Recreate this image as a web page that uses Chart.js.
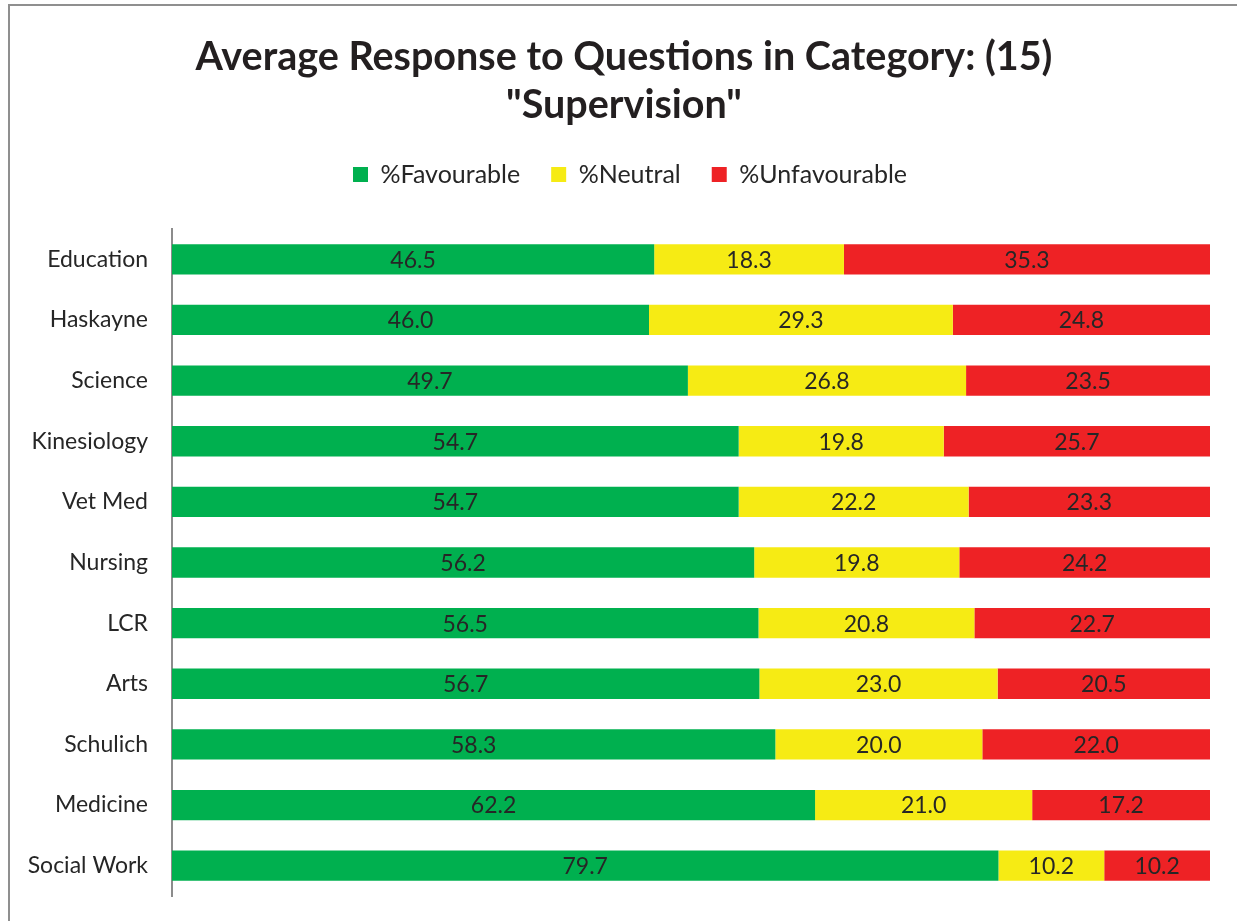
<!DOCTYPE html>
<html>
<head>
<meta charset="utf-8">
<script src="https://cdn.jsdelivr.net/npm/chart.js@4"></script>
<style>
  body { margin: 0; background: #fff; }
  .frame { position: absolute; left: 8px; top: 4px; width: 1240px; height: 930px; border: 2px solid #8f8f8f; }
  .wrap { position: absolute; left: 0; top: 0; width: 1237px; height: 921px; }
</style>
</head>
<body>
<div class="frame"></div>
<div class="wrap"><canvas id="chart" width="1237" height="921"></canvas></div>
<script>
// faculties, top to bottom
const faculties = ["Education", "Haskayne", "Science", "Kinesiology", "Vet Med", "Nursing",
  "LCR", "Arts", "Schulich", "Medicine", "Social Work"];

// % per faculty
const favourable = [46.5, 46.0, 49.7, 54.7, 54.7, 56.2, 56.5, 56.7, 58.3, 62.2, 79.7];
const neutral = [18.3, 29.3, 26.8, 19.8, 22.2, 19.8, 20.8, 23.0, 20.0, 21.0, 10.2];
const unfavourable = [35.3, 24.8, 23.5, 25.7, 23.3, 24.2, 22.7, 20.5, 22.0, 17.2, 10.2];

const FONT = "Lato, 'Open Sans', sans-serif";

// 100% stacked, like the original: each row is scaled to its own total
const totals = faculties.map((f, i) => favourable[i] + neutral[i] + unfavourable[i]);
const share = arr => arr.map((v, i) => v / totals[i] * 100);

/* numbers in the middle of each segment */
const barLabels = {
  id: "barLabels",
  afterDatasetsDraw(chart) {
    const ctx = chart.ctx;
    ctx.save();
    ctx.font = "23px " + FONT;
    ctx.fillStyle = "#262626";
    ctx.textAlign = "center";
    ctx.textBaseline = "middle";
    chart.data.datasets.forEach((ds, d) => {
      chart.getDatasetMeta(d).data.forEach((bar, i) => {
        ctx.fillText(ds.raw[i].toFixed(1), (bar.x + bar.base) / 2, bar.y + 1);
      });
    });
    ctx.restore();
  },
};

/* title and legend are centred on the whole frame, not on the plot */
const centerHeader = {
  id: "centerHeader",
  afterLayout(chart) {
    chart.titleBlock.left += 38;
    chart.legend.left += 50;
  },
};

new Chart(document.getElementById("chart"), {
  type: "bar",
  data: {
    labels: faculties,
    datasets: [
      { label: "%Favourable", data: share(favourable), raw: favourable, backgroundColor: "#00b04f" },
      { label: "%Neutral", data: share(neutral), raw: neutral, backgroundColor: "#f6eb14" },
      { label: "%Unfavourable", data: share(unfavourable), raw: unfavourable, backgroundColor: "#ee2225" },
    ],
  },
  options: {
    indexAxis: "y",
    responsive: false,
    animation: false,
    barPercentage: 0.5,
    categoryPercentage: 1,
    layout: { padding: { left: 0, right: 27, top: 0, bottom: 0 } },
    scales: {
      // hidden x axis, only keeps the space under the bars
      x: {
        stacked: true, min: 0, max: 100,
        grid: { display: false },
        border: { display: false },
        ticks: { display: false },
        afterFit(scale) { scale.height = 25; },
      },
      y: {
        stacked: true,
        grid: { display: false },
        border: { display: true, color: "#8c8c8c", width: 2 },
        ticks: { color: "#262626", font: { family: FONT, size: 23, lineHeight: 0.6 }, padding: 16 },
        afterFit(scale) { scale.width = 172; },
      },
    },
    plugins: {
      tooltip: { enabled: false },
      title: {
        display: true,
        text: ["Average Response to Questions in Category: (15)", "\"Supervision\""],
        color: "#231f20",
        font: { family: FONT, size: 39.5, weight: "bold", lineHeight: 1.215 },
        padding: { top: 33, bottom: 2 },
      },
      // blank spacer between legend and bars
      subtitle: {
        display: true,
        text: " ",
        weight: 500,
        font: { size: 10, lineHeight: 1 },
        padding: { top: 0, bottom: 22 },
      },
      legend: {
        labels: {
          color: "#262626",
          font: { family: FONT, size: 25 },
          boxWidth: 15,
          boxHeight: 15,
          padding: 31,
        },
      },
    },
  },
  plugins: [barLabels, centerHeader],
});
</script>
</body>
</html>
